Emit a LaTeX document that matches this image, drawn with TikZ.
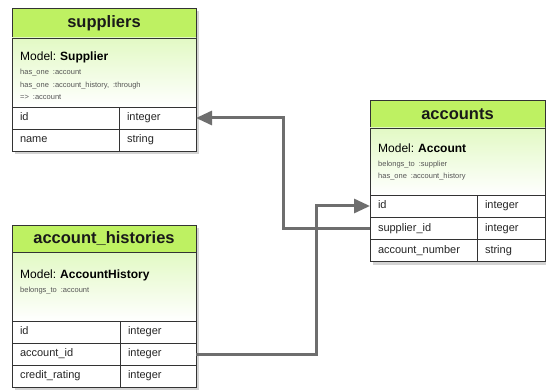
\documentclass[tikz,border=0pt]{standalone}
\usepackage{fontspec}
\setmainfont{Liberation Sans}
\usetikzlibrary{positioning, shadows, fit, backgrounds, arrows.meta}
\definecolor{headgreen}{RGB}{190,241,98}
\definecolor{modelgreen}{RGB}{226,249,196}
\definecolor{linkgray}{RGB}{110,110,110}
\definecolor{notegray}{RGB}{85,85,85}
\frenchspacing

\begin{document}
\begin{tikzpicture}[x=1pt, y=-1pt,
    tbl/.style={draw=black!80, line width=.8pt, rectangle, inner sep=0pt, outer sep=0pt},
    head/.style={tbl, fill=headgreen, anchor=north west, text=black!90, font=\fontsize{16.5}{18}\selectfont\bfseries},
    model/.style={tbl, top color=modelgreen, bottom color=white, anchor=north west},
    modeltext/.style={inner sep=0pt, text width=165pt, align=left, font=\fontsize{12}{14}\selectfont\frenchspacing},
    cell/.style={tbl, fill=white, anchor=north west, minimum height=22pt, text height=8pt, text depth=2.5pt, inner xsep=8pt, align=left, text=black!85, font=\fontsize{11}{13}\selectfont},
    link/.style={draw=linkgray, line width=3pt, -{Triangle[length=16pt,width=14pt]}}]
    \useasboundingbox (0,0) rectangle (546,390);

    % suppliers
    \node[head, minimum width=184pt, minimum height=30pt] (sup-head) at (12,8) {suppliers};
    \node[model, minimum width=184pt, minimum height=69pt] (sup-model) at (sup-head.south west) {};
    \node[modeltext, below right=14pt and 8pt of sup-model.north west] (sup-note) {Model: \textbf{Supplier}\par\vspace{1.5pt}
        {\fontsize{7.5}{12.5}\selectfont\color{notegray}has\_one :account\par has\_one :account\_history, :through\par => :account\par}};
    \foreach \name/\type [count=\i] in {id/integer, name/string} {
        \node[cell, text width=91pt] (sup-\i-a) at (12, {107+22*(\i-1)}) {\name};
        \node[cell, text width=61pt] (sup-\i-b) at (sup-\i-a.north east) {\type};
    }

    % accounts
    \node[head, minimum width=175pt, minimum height=28pt] (acc-head) at (370,100) {accounts};
    \node[model, minimum width=175pt, minimum height=67pt] (acc-model) at (acc-head.south west) {};
    \node[modeltext, below right=15.5pt and 8pt of acc-model.north west] (acc-note) {Model: \textbf{Account}\par\vspace{1.5pt}
        {\fontsize{7.5}{12.5}\selectfont\color{notegray}belongs\_to :supplier\par has\_one :account\_history\par}};
    \foreach \name/\type [count=\i] in {id/integer, supplier\_id/integer, account\_number/string} {
        \node[cell, text width=91pt] (acc-\i-a) at (370, {195+22.3*(\i-1)}) {\name};
        \node[cell, text width=52pt] (acc-\i-b) at (acc-\i-a.north east) {\type};
    }

    % account_histories
    \node[head, minimum width=184pt, minimum height=27pt] (hist-head) at (12,225) {account\_histories};
    \node[model, minimum width=184pt, minimum height=69pt] (hist-model) at (hist-head.south west) {};
    \node[modeltext, below right=17.5pt and 8pt of hist-model.north west] (hist-note) {Model: \textbf{AccountHistory}\par\vspace{1.5pt}
        {\fontsize{7.5}{12.5}\selectfont\color{notegray}belongs\_to :account\par}};
    \foreach \name/\type [count=\i] in {id/integer, account\_id/integer, credit\_rating/integer} {
        \node[cell, text width=92pt] (hist-\i-a) at (12, {321+22*(\i-1)}) {\name};
        \node[cell, text width=60pt] (hist-\i-b) at (hist-\i-a.north east) {\type};
    }

    % shadows
    \begin{scope}[on background layer]
        \foreach \t/\last in {sup/sup-2-b, acc/acc-3-b, hist/hist-3-b}
            \node[fit=(\t-head)(\last), inner sep=0pt, fill=white, drop shadow={opacity=.35, shadow xshift=2.5pt, shadow yshift=-3pt}] (\t-frame) {};
    \end{scope}

    % links
    \coordinate (bendA) at (283,0);
    \coordinate (bendB) at (316,0);
    \draw[link] (acc-2-a.west) -| (bendA |- sup-1-b.east) -- (sup-1-b.east);
    \draw[link] (hist-2-b.east) -| (bendB |- acc-1-a.west) -- (acc-1-a.west);
\end{tikzpicture}
\end{document}
